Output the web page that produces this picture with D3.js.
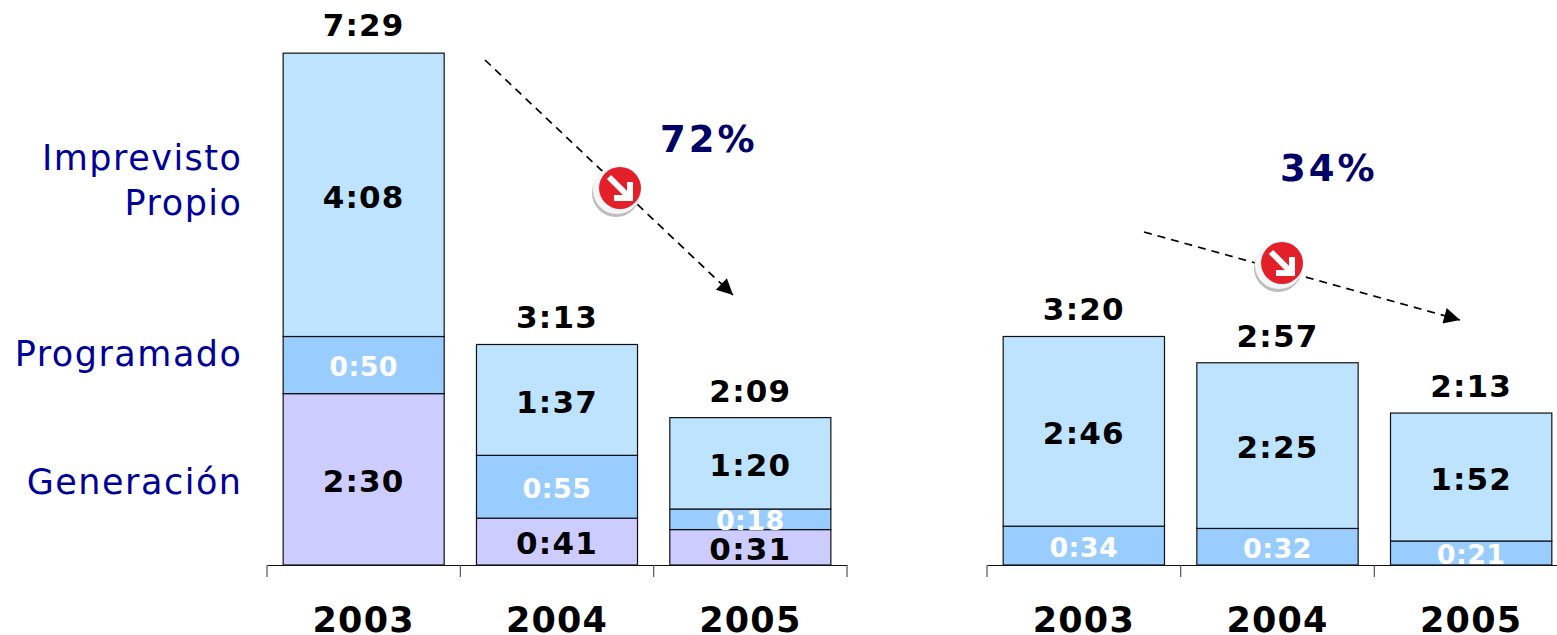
<!DOCTYPE html>
<html lang="es">
<head>
<meta charset="UTF-8">
<title>Indisponibilidad</title>
<style>
    html, body { margin: 0; padding: 0; background: #fff; overflow: hidden; }
    text { font-family: "DejaVu Sans", Verdana, sans-serif; }
</style>
</head>
<body>
<div id="chart"></div>
<script src="https://cdn.jsdelivr.net/npm/d3@7"></script>
<script>
    const years = ["2003", "2004", "2005"];

    // valores en h:mm, de abajo hacia arriba
    const leftGeneracion = ["2:30", "0:41", "0:31"];
    const leftProgramado = ["0:50", "0:55", "0:18"];
    const leftImprevisto = ["4:08", "1:37", "1:20"];
    const leftTotals = ["7:29", "3:13", "2:09"];

    const rightProgramado = ["0:34", "0:32", "0:21"];
    const rightImprevisto = ["2:46", "2:25", "1:52"];
    const rightTotals = ["3:20", "2:57", "2:13"];

    const legendLabels = ["Imprevisto", "Propio", "Programado", "Generación"];

    const colGeneracion = "#ccccff";
    const colProgramado = "#99ccff";
    const colImprevisto = "#bde3ff";

    const toMin = s => {
        const p = s.split(":");
        return +p[0] * 60 + +p[1];
    };

    const svg = d3.select("#chart").append("svg")
        .attr("width", 1557)
        .attr("height", 635);

    const baseY = 565;
    const y = d3.scaleLinear().domain([0, 449]).range([baseY, 52]);

    const defs = svg.append("defs");
    defs.append("marker")
        .attr("id", "head")
        .attr("viewBox", "0 0 10 10")
        .attr("refX", 10).attr("refY", 5)
        .attr("markerUnits", "userSpaceOnUse")
        .attr("markerWidth", 19).attr("markerHeight", 16)
        .attr("orient", "auto")
        .append("path").attr("d", "M0,0L10,5L0,10z").attr("fill", "#000");

    function drawPanel(x0, x1, series, totals) {
        const x = d3.scaleBand().domain(years).range([x0, x1])
            .paddingInner(0.167).paddingOuter(0.0835);
        const g = svg.append("g");
        const stack = d3.stack().keys(d3.range(series.length))
            .value((yr, k) => toMin(series[k].values[years.indexOf(yr)]));

        stack(years).forEach((layer, k) => {
            const s = series[k];
            g.selectAll(null).data(layer).enter().append("rect")
                .attr("x", d => x(d.data))
                .attr("width", x.bandwidth())
                .attr("y", d => y(d[1]))
                .attr("height", d => y(d[0]) - y(d[1]))
                .attr("fill", s.color)
                .attr("stroke", "#111")
                .attr("stroke-width", 1.2);
        });
        stack(years).forEach((layer, k) => {
            const s = series[k];
            g.selectAll(null).data(layer).enter().append("text")
                .attr("x", d => x(d.data) + x.bandwidth() / 2)
                .attr("y", d => (y(d[0]) + y(d[1])) / 2)
                .attr("dy", "0.41em")
                .attr("text-anchor", "middle")
                .attr("font-size", s.white ? 27 : 31)
                .attr("letter-spacing", s.white ? 0.4 : 1.2)
                .attr("font-weight", "bold")
                .attr("fill", s.white ? "#fff" : "#000")
                .text((d, i) => s.values[i]);
        });

        // totales sobre cada barra
        g.selectAll(null).data(years).enter().append("text")
            .attr("x", d => x(d) + x.bandwidth() / 2)
            .attr("y", d => y(toMin(totals[years.indexOf(d)])) - 16)
            .attr("text-anchor", "middle")
            .attr("font-size", 31)
            .attr("letter-spacing", 1.2)
            .attr("font-weight", "bold")
            .text((d, i) => totals[i]);

        // eje
        const axis = svg.append("g")
            .attr("transform", "translate(0," + baseY + ")")
            .call(d3.axisBottom(x).tickSize(0).tickPadding(42));
        axis.select(".domain").attr("stroke", "#111").attr("stroke-width", 1.2);
        axis.selectAll(".tick text")
            .attr("font-size", 35)
            .attr("letter-spacing", 1.2)
            .attr("font-weight", "bold")
            .attr("font-family", '"DejaVu Sans", Verdana, sans-serif')
            .attr("fill", "#000");

        const step = x.step();
        const edges = years.map(d => x(d) + x.bandwidth() / 2 - step / 2)
            .concat([x(years[2]) + x.bandwidth() / 2 + step / 2]);
        axis.selectAll(".edge").data(edges).enter().append("line")
            .attr("class", "edge")
            .attr("x1", d => d).attr("x2", d => d)
            .attr("y1", 0).attr("y2", 12)
            .attr("stroke", "#555").attr("stroke-width", 1.2);
    }

    function trend(x1, y1, x2, y2, cx, cy, pct, px, py) {
        svg.append("line")
            .attr("x1", x1).attr("y1", y1).attr("x2", x2).attr("y2", y2)
            .attr("stroke", "#000").attr("stroke-width", 1.7)
            .attr("stroke-dasharray", "8 6")
            .attr("marker-end", "url(#head)");

        const icon = svg.append("g").attr("transform", "translate(" + cx + "," + cy + ")");
        icon.append("circle").attr("cx", -1).attr("cy", 3).attr("r", 24).attr("fill", "#bdbdbd");
        icon.append("circle").attr("r", 24).attr("fill", "#f6f6f6");
        icon.append("g").attr("transform", "translate(3,-2)").call(r => {
            r.append("circle").attr("r", 21).attr("fill", "#e3202a");
            r.append("path")
                .attr("d", "M-11,-11L9,9M10,-6L10,10L-6,10")
                .attr("fill", "none").attr("stroke", "#fff").attr("stroke-width", 6);
        });

        svg.append("text")
            .attr("x", px).attr("y", py)
            .attr("font-size", 37)
            .attr("letter-spacing", 3)
            .attr("font-weight", "bold")
            .attr("fill", "#000066")
            .text(pct);
    }

    drawPanel(267, 847, [
        { values: leftGeneracion, color: colGeneracion },
        { values: leftProgramado, color: colProgramado, white: true },
        { values: leftImprevisto, color: colImprevisto }
    ], leftTotals);

    drawPanel(987, 1568, [
        { values: rightProgramado, color: colProgramado, white: true },
        { values: rightImprevisto, color: colImprevisto }
    ], rightTotals);

    trend(485, 60, 733, 295, 617, 190, "72%", 660, 152);
    trend(1144, 232, 1460, 320, 1279, 265, "34%", 1280, 181);

    // etiquetas de la izquierda
    const legendY = [170, 215, 366, 494];
    svg.selectAll(".lg").data(legendLabels).enter().append("text")
        .attr("class", "lg")
        .attr("x", 242.5)
        .attr("y", (d, i) => legendY[i])
        .attr("text-anchor", "end")
        .attr("font-size", 35)
        .attr("letter-spacing", 1.5)
        .attr("fill", "#000099")
        .text(d => d);
</script>
</body>
</html>
